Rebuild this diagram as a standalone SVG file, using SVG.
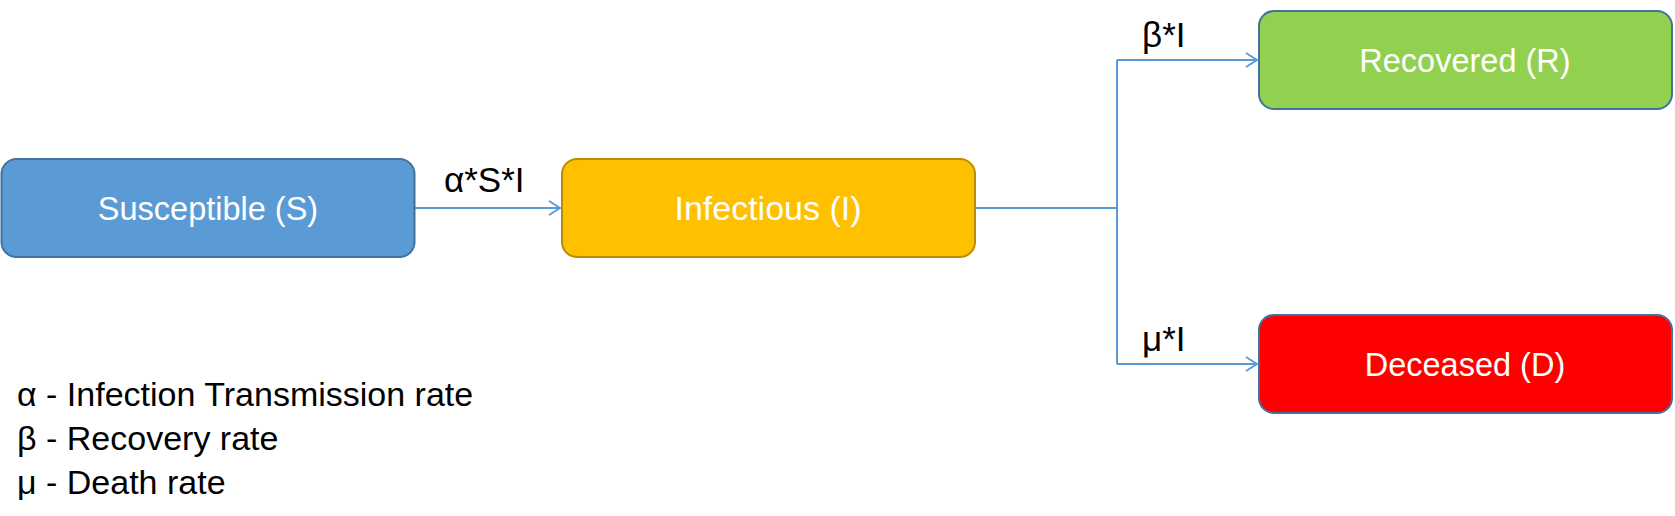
<svg xmlns="http://www.w3.org/2000/svg" width="1675" height="516" viewBox="0 0 1675 516">
<style>
.box{stroke-width:2}
.lbl{font-family:"Liberation Sans",Arial,sans-serif;font-size:32.5px;fill:#ffffff;text-anchor:middle}
.txt{font-family:"Liberation Sans",Arial,sans-serif;font-size:34px;fill:#000000}
.rate{font-family:"Liberation Sans",Arial,sans-serif;font-size:35px;fill:#000000}
.conn{fill:none;stroke:#5B9BD5;stroke-width:2}
</style>
<defs>
<marker id="arr" markerUnits="userSpaceOnUse" markerWidth="14" markerHeight="18" refX="12" refY="8" orient="auto">
<path d="M1,1 L12,8 L1,15" fill="none" stroke="#5B9BD5" stroke-width="2"/>
</marker>
</defs>
<rect width="1675" height="516" fill="#ffffff"/>
<g id="connectors">
<path class="conn" d="M415,208 L560,208" marker-end="url(#arr)"/>
<path class="conn" d="M975,208 L1117,208"/>
<path class="conn" d="M1117,60 L1117,364"/>
<path class="conn" d="M1117,60 L1257,60" marker-end="url(#arr)"/>
<path class="conn" d="M1117,364 L1257,364" marker-end="url(#arr)"/>
<text class="rate" x="444" y="192">α*S*I</text>
<text class="rate" x="1142" y="47">β*I</text>
<text class="rate" x="1142" y="351">μ*I</text>
</g>
<g id="susceptible">
<rect class="box" x="1.5" y="159" width="413" height="98" rx="15" fill="#5B9BD5" stroke="#41719C"/>
<text class="lbl" x="208" y="220">Susceptible (S)</text>
</g>
<g id="infectious">
<rect class="box" x="562" y="159" width="413" height="98" rx="15" fill="#FFC000" stroke="#BC8C00"/>
<text class="lbl" x="768" y="220" style="font-size:34px">Infectious (I)</text>
</g>
<g id="recovered">
<rect class="box" x="1259" y="11" width="413" height="98" rx="15" fill="#92D050" stroke="#41719C"/>
<text class="lbl" x="1465" y="72">Recovered (R)</text>
</g>
<g id="deceased">
<rect class="box" x="1259" y="315" width="413" height="98" rx="15" fill="#FF0000" stroke="#41719C"/>
<text class="lbl" x="1465" y="376">Deceased (D)</text>
</g>
<g id="legend">
<text class="txt" x="17" y="406">α - Infection Transmission rate</text>
<text class="txt" x="17" y="450">β - Recovery rate</text>
<text class="txt" x="17" y="494">μ - Death rate</text>
</g>
</svg>
